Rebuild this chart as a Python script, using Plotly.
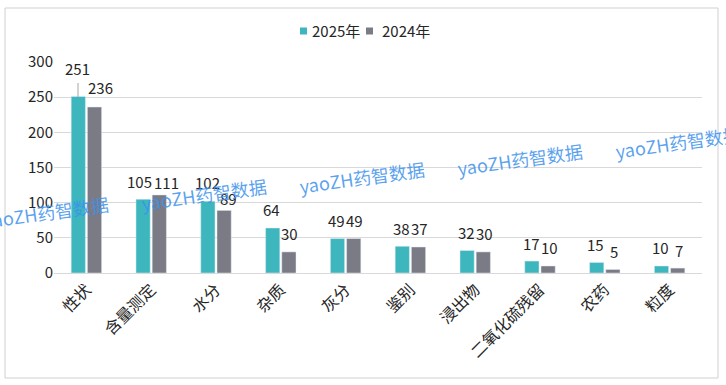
import plotly.graph_objects as go

categories = ["性状", "含量测定", "水分", "杂质", "灰分", "鉴别", "浸出物", "二氧化硫残留", "农药", "粒度"]
values_2025 = [251, 105, 102, 64, 49, 38, 32, 17, 15, 10]
values_2024 = [236, 111, 89, 30, 49, 37, 30, 10, 5, 7]
series_names = ["2025年", "2024年"]
y_ticks = [0, 50, 100, 150, 200, 250, 300]

TEAL = "#3DB7BD"
GRAY = "#7A7B85"
FONT = "Noto Sans CJK SC, Microsoft YaHei, sans-serif"

W, H = 726, 385
L, R, T, B = 54, 24, 62, 112
pw, ph = W - L - R, H - T - B

def px_x(x):
    return (x - L) / pw

def px_y(y):
    return (H - B - y) / ph

fig = go.Figure()
fig.add_trace(go.Bar(name=series_names[0], x=categories, y=values_2025, marker_color=TEAL,
                     showlegend=False))
fig.add_trace(go.Bar(name=series_names[1], x=categories, y=values_2024, marker_color=GRAY,
                     showlegend=False))

# label offsets (style only): (xshift1, yshift1, xshift2, yshift2)
offsets = {0: (-9, 28, 14, 20), 1: (-12, 18, 15, 12), 2: (-9, 19, 12, 12)}

ann = []
for i, c in enumerate(categories):
    v1, v2 = values_2025[i], values_2024[i]
    xs1, ys1, xs2, ys2 = offsets.get(i, (-9, 18, 9, 18))
    ann.append(dict(x=c, y=v1, xref="x", yref="y", text=str(v1), showarrow=False,
                    xshift=xs1, yshift=ys1, font=dict(size=15, color="#262626", family=FONT)))
    ann.append(dict(x=c, y=v2, xref="x", yref="y", text=str(v2), showarrow=False,
                    xshift=xs2, yshift=ys2, font=dict(size=15, color="#262626", family=FONT)))

# watermarks
for cx, cy in [(46, 212), (204, 194), (362, 177), (520, 159), (678, 142)]:
    ann.append(dict(x=px_x(cx), y=px_y(cy), xref="paper", yref="paper", text="yaoZH药智数据",
                    showarrow=False, textangle=-8, xanchor="center", yanchor="middle",
                    font=dict(size=18, color="rgba(60,145,235,0.85)", family=FONT)))

shapes = [
    dict(type="rect", xref="paper", yref="paper",
         x0=px_x(5), x1=px_x(718), y0=px_y(378), y1=px_y(8),
         line=dict(color="#D0D0D0", width=1), fillcolor="rgba(0,0,0,0)", layer="below"),
    dict(type="line", xref="paper", yref="paper",
         x0=px_x(78), x1=px_x(78), y0=px_y(97), y1=px_y(83),
         line=dict(color="#A6A6A6", width=1)),
]

# custom legend
for (sx, tx), name, col in zip([(300, 310), (366, 380)], series_names, [TEAL, GRAY]):
    shapes.append(dict(type="rect", xref="paper", yref="paper",
                       x0=px_x(sx), x1=px_x(sx + 7), y0=px_y(34.5), y1=px_y(27.5),
                       line=dict(width=0), fillcolor=col))
    ann.append(dict(x=px_x(tx), y=px_y(31), xref="paper", yref="paper", text=name,
                    showarrow=False, xanchor="left", yanchor="middle",
                    font=dict(size=15, color="#262626", family=FONT)))

fig.update_layout(
    width=W, height=H,
    margin=dict(l=L, r=R, t=T, b=B, autoexpand=False),
    paper_bgcolor="white", plot_bgcolor="white",
    barmode="group", bargap=0.5, bargroupgap=0.12,
    font=dict(family=FONT, color="#262626"),
    showlegend=False,
    xaxis=dict(tickangle=-45, tickfont=dict(size=16, color="#262626"), showline=True,
               linecolor="#D9D9D9", ticks="", showgrid=False, automargin=False),
    yaxis=dict(range=[0, 300], tickvals=y_ticks, tickfont=dict(size=15, color="#262626"),
               showgrid=True, gridcolor="#D9D9D9", zeroline=False, showline=False, ticks="",
               automargin=False),
    annotations=ann,
    shapes=shapes,
)

fig.write_html("out.html", config={"displayModeBar": False},
               post_script="document.body.style.margin='0';")
